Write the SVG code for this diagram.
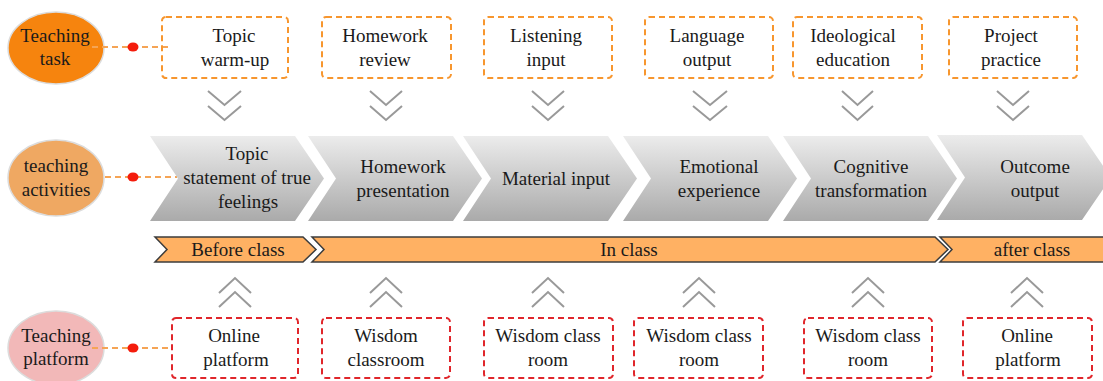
<svg xmlns="http://www.w3.org/2000/svg" width="1103" height="381" viewBox="0 0 1103 381" font-family="'Liberation Serif', 'DejaVu Serif', serif">
<defs>
<linearGradient id="gray" x1="0" y1="0" x2="0" y2="1">
<stop offset="0" stop-color="#ececec"/>
<stop offset="1" stop-color="#aaaaaa"/>
</linearGradient>
</defs>
<style>
text{font-family:'Liberation Serif','DejaVu Serif',serif;font-size:19px;fill:#1a1a1a;text-anchor:middle}
.task{fill:none;stroke:#f7962e;stroke-width:2;stroke-dasharray:6 4}
.plat{fill:none;stroke:#e0262b;stroke-width:2;stroke-dasharray:6 4}
.chev{fill:url(#gray)}
.band{fill:#ffb163;stroke:#3c3c3c;stroke-width:1.5}
.conn{stroke:#f5a455;stroke-width:1.8;stroke-dasharray:6 4;fill:none}
.dot{fill:#f41c0c}
.arr{fill:none;stroke:#999;stroke-width:2}
.ell{stroke:#dcdcdc;stroke-width:1.5}
</style>

<g id="label-task">
<ellipse class="ell" cx="56" cy="48" rx="48" ry="36" fill="#f6840e"/>
<text x="55" y="42">Teaching</text><text x="55" y="65">task</text>
</g>
<g id="label-activities">
<ellipse class="ell" cx="56" cy="178" rx="48" ry="38" fill="#efa862"/>
<text x="56" y="172">teaching</text><text x="56" y="196">activities</text>
</g>
<g id="label-platform">
<ellipse class="ell" cx="56" cy="348" rx="48" ry="37" fill="#f2b8b8"/>
<text x="56" y="342">Teaching</text><text x="56" y="365">platform</text>
</g>

<g id="connectors">
<line class="conn" x1="92" y1="47" x2="172" y2="47"/>
<line class="conn" x1="105" y1="177" x2="177" y2="177"/>
<line class="conn" x1="92" y1="348" x2="172" y2="348"/>
<ellipse class="dot" cx="133" cy="47" rx="5.5" ry="4.5"/>
<ellipse class="dot" cx="133" cy="177" rx="5.5" ry="4.5"/>
<ellipse class="dot" cx="133" cy="348" rx="5.5" ry="4.5"/>
<g class="arr">
<path d="M208 91 L224.5 105 L241 91 M208 106 L224.5 120 L241 106"/>
<path d="M370 91 L386 105 L402 91 M370 106 L386 120 L402 106"/>
<path d="M532 91 L548 105 L564 91 M532 106 L548 120 L564 106"/>
<path d="M693 91 L710 105 L727 91 M693 106 L710 120 L727 106"/>
<path d="M842 91 L857.5 105 L873 91 M842 106 L857.5 120 L873 106"/>
<path d="M997 91 L1013 105 L1029 91 M997 106 L1013 120 L1029 106"/>
<path d="M219 293 L235 278 L251 293 M219 307 L235 292 L251 307"/>
<path d="M370 293 L386 278 L402 293 M370 307 L386 292 L402 307"/>
<path d="M532 293 L548 278 L564 293 M532 307 L548 292 L564 307"/>
<path d="M683 293 L699 278 L715 293 M683 307 L699 292 L715 307"/>
<path d="M852 293 L868 278 L884 293 M852 307 L868 292 L884 307"/>
<path d="M1011 293 L1027 278 L1043 293 M1011 307 L1027 292 L1043 307"/>
</g>
</g>

<g id="task-1"><rect class="task" x="162" y="17" width="126" height="61" rx="4"/><text x="234" y="42">Topic</text><text x="235" y="66">warm-up</text></g>
<g id="task-2"><rect class="task" x="322" y="17" width="129" height="61" rx="4"/><text x="385" y="42">Homework</text><text x="385" y="66">review</text></g>
<g id="task-3"><rect class="task" x="484" y="17" width="128" height="61" rx="4"/><text x="546" y="42">Listening</text><text x="546" y="66">input</text></g>
<g id="task-4"><rect class="task" x="645" y="17" width="128" height="61" rx="4"/><text x="707" y="42">Language</text><text x="707" y="66">output</text></g>
<g id="task-5"><rect class="task" x="793" y="17" width="129" height="61" rx="4"/><text x="853" y="42">Ideological</text><text x="853" y="66">education</text></g>
<g id="task-6"><rect class="task" x="949" y="17" width="128" height="61" rx="4"/><text x="1011" y="42">Project</text><text x="1011" y="66">practice</text></g>

<g id="act-1"><polygon class="chev" points="150,136 295,136 324,178.5 295,221 150,221 178,178.5"/><text x="247" y="160">Topic</text><text x="247" y="184">statement of true</text><text x="248" y="208">feelings</text></g>
<g id="act-2"><polygon class="chev" points="308,136 453,136 482,178.5 453,221 308,221 336,178.5"/><text x="403" y="173">Homework</text><text x="403" y="197">presentation</text></g>
<g id="act-3"><polygon class="chev" points="463,136 608,136 637,178.5 608,221 463,221 491,178.5"/><text x="556" y="185">Material input</text></g>
<g id="act-4"><polygon class="chev" points="623,136 768,136 797,178.5 768,221 623,221 651,178.5"/><text x="719" y="173">Emotional</text><text x="719" y="197">experience</text></g>
<g id="act-5"><polygon class="chev" points="783,136 928,136 957,178.5 928,221 783,221 811,178.5"/><text x="871" y="173">Cognitive</text><text x="871" y="197">transformation</text></g>
<g id="act-6"><polygon class="chev" points="937,135 1082,135 1111,177.5 1082,220 937,220 965,177.5"/><text x="1035" y="173">Outcome</text><text x="1035" y="197">output</text></g>

<g id="phase-before"><polygon class="band" points="155,237 303,237 316,249.5 303,262 155,262 167,249.5"/><text x="238" y="256">Before class</text></g>
<g id="phase-in"><polygon class="band" points="312,237 935,237 948,249.5 935,262 312,262 324,249.5"/><text x="629" y="256">In class</text></g>
<g id="phase-after"><polygon class="band" points="940,237 1110,237 1110,262 940,262 952,249.5"/><text x="1032" y="256">after class</text></g>

<g id="plat-1"><rect class="plat" x="172" y="318" width="126" height="60" rx="4"/><text x="234" y="342">Online</text><text x="236" y="366">platform</text></g>
<g id="plat-2"><rect class="plat" x="322" y="318" width="128" height="60" rx="4"/><text x="386" y="342">Wisdom</text><text x="386" y="366">classroom</text></g>
<g id="plat-3"><rect class="plat" x="484" y="318" width="129" height="60" rx="4"/><text x="548" y="342">Wisdom class</text><text x="548" y="366">room</text></g>
<g id="plat-4"><rect class="plat" x="634" y="318" width="129" height="60" rx="4"/><text x="699" y="342">Wisdom class</text><text x="699" y="366">room</text></g>
<g id="plat-5"><rect class="plat" x="804" y="318" width="128" height="60" rx="4"/><text x="868" y="342">Wisdom class</text><text x="868" y="366">room</text></g>
<g id="plat-6"><rect class="plat" x="963" y="318" width="129" height="60" rx="4"/><text x="1027" y="342">Online</text><text x="1028" y="366">platform</text></g>
</svg>
